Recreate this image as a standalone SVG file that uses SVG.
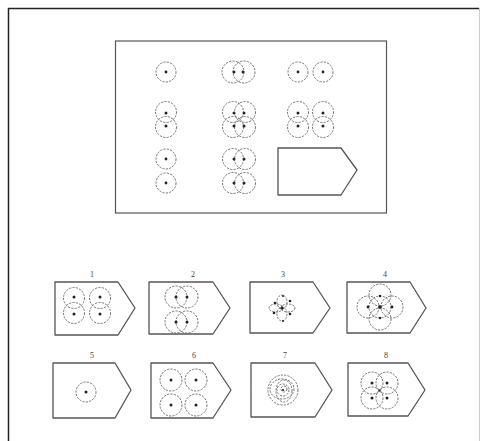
<svg xmlns="http://www.w3.org/2000/svg" width="481" height="441" viewBox="0 0 481 441">
<style>
.frame{fill:none;stroke:#222;stroke-width:1.5}
.box{fill:none;stroke:#555;stroke-width:1.2}
.pent{fill:none;stroke:#555;stroke-width:1.3;stroke-linejoin:round}
.c{fill:none;stroke:#666;stroke-width:0.9;stroke-dasharray:2.2 1.2}
.d{fill:#222}
.lbl{font-family:"Liberation Serif",serif;font-size:8px;fill:#444;text-anchor:middle}
</style>
<rect width="481" height="441" fill="#fff"/>
<path class="frame" d="M8.5,441 V8.5 H479"/>
<line x1="479.5" y1="8" x2="479.5" y2="441" stroke="#ccc" stroke-width="1"/>
<g id="matrix">
<rect class="box" x="115.5" y="41" width="271" height="172"/>
<g id="r1c1"><circle class="c" cx="166" cy="72" r="10"/><circle class="d" cx="166" cy="72" r="1.4"/></g>
<g id="r1c2"><circle class="c" cx="233" cy="72" r="11"/><circle class="c" cx="244" cy="72" r="11"/><circle class="d" cx="234" cy="72" r="1.5"/><circle class="d" cx="243" cy="72" r="1.5"/></g>
<g id="r1c3"><circle class="c" cx="298" cy="72" r="10"/><circle class="c" cx="323" cy="72" r="10"/><circle class="d" cx="298" cy="72" r="1.4"/><circle class="d" cx="323" cy="72" r="1.4"/></g>
<g id="r2c1"><circle class="c" cx="166" cy="112" r="10.5"/><circle class="c" cx="166" cy="127" r="10.5"/><circle class="d" cx="166" cy="113" r="1.5"/><circle class="d" cx="166" cy="126" r="1.5"/></g>
<g id="r2c2"><circle class="c" cx="233" cy="112" r="10.5"/><circle class="c" cx="245" cy="112" r="10.5"/><circle class="c" cx="233" cy="127" r="10.5"/><circle class="c" cx="245" cy="127" r="10.5"/><circle class="d" cx="234" cy="113" r="1.5"/><circle class="d" cx="244" cy="113" r="1.5"/><circle class="d" cx="234" cy="126" r="1.5"/><circle class="d" cx="244" cy="126" r="1.5"/></g>
<g id="r2c3"><circle class="c" cx="298" cy="112" r="10.5"/><circle class="c" cx="298" cy="127" r="10.5"/><circle class="c" cx="323" cy="112" r="10.5"/><circle class="c" cx="323" cy="127" r="10.5"/><circle class="d" cx="298" cy="113" r="1.5"/><circle class="d" cx="298" cy="126" r="1.5"/><circle class="d" cx="323" cy="113" r="1.5"/><circle class="d" cx="323" cy="126" r="1.5"/></g>
<g id="r3c1"><circle class="c" cx="166" cy="159" r="10"/><circle class="c" cx="166" cy="183" r="10"/><circle class="d" cx="166" cy="159" r="1.4"/><circle class="d" cx="166" cy="183" r="1.4"/></g>
<g id="r3c2"><circle class="c" cx="233" cy="159" r="10.5"/><circle class="c" cx="245" cy="159" r="10.5"/><circle class="c" cx="233" cy="183" r="10.5"/><circle class="c" cx="245" cy="183" r="10.5"/><circle class="d" cx="234" cy="159" r="1.5"/><circle class="d" cx="244" cy="159" r="1.5"/><circle class="d" cx="234" cy="183" r="1.5"/><circle class="d" cx="244" cy="183" r="1.5"/></g>
<g id="r3c3"><path class="pent" d="M278,148 H341 L357,170 L341,195 H278 Z"/></g>
</g>
<g id="opt1">
<text class="lbl" x="92" y="277">1</text>
<path class="pent" d="M55,282 H118 L135,308 L118,335 H55 Z"/>
<circle class="c" cx="74" cy="298" r="10.5"/><circle class="c" cx="74" cy="313" r="10.5"/><circle class="c" cx="100" cy="298" r="10.5"/><circle class="c" cx="100" cy="313" r="10.5"/>
<circle class="d" cx="74" cy="297" r="1.5"/><circle class="d" cx="74" cy="314" r="1.5"/><circle class="d" cx="100" cy="297" r="1.5"/><circle class="d" cx="100" cy="314" r="1.5"/>
</g>
<g id="opt2">
<text class="lbl" x="193" y="277">2</text>
<path class="pent" d="M149,282 H213 L230,308 L213,334 H149 Z"/>
<circle class="c" cx="176" cy="297" r="11"/><circle class="c" cx="187" cy="297" r="11"/><circle class="c" cx="176" cy="322" r="11"/><circle class="c" cx="187" cy="322" r="11"/>
<circle class="d" cx="176" cy="297" r="1.5"/><circle class="d" cx="187" cy="297" r="1.5"/><circle class="d" cx="176" cy="322" r="1.5"/><circle class="d" cx="187" cy="322" r="1.5"/>
</g>
<g id="opt3">
<text class="lbl" x="283" y="277">3</text>
<path class="pent" d="M250,282 H313 L330,308 L313,333 H250 Z"/>
<ellipse class="c" cx="282" cy="302" rx="5" ry="7"/><ellipse class="c" cx="282" cy="314" rx="5" ry="7"/><ellipse class="c" cx="276" cy="308" rx="7" ry="4"/><ellipse class="c" cx="288" cy="308" rx="7" ry="4"/>
<circle class="d" cx="282" cy="308" r="1.5"/><circle class="d" cx="275" cy="303" r="1.3"/><circle class="d" cx="290" cy="301" r="1.3"/><circle class="d" cx="274" cy="313" r="1.3"/><circle class="d" cx="290" cy="314" r="1.3"/><circle class="d" cx="283" cy="296" r="1"/><circle class="d" cx="283" cy="321" r="1"/>
</g>
<g id="opt4">
<text class="lbl" x="385" y="277">4</text>
<path class="pent" d="M347,282 H410 L426,308 L410,333 H347 Z"/>
<circle class="c" cx="380" cy="295" r="11"/><circle class="c" cx="380" cy="319" r="11"/><circle class="c" cx="368" cy="307" r="11"/><circle class="c" cx="392" cy="307" r="11"/><circle class="c" cx="380" cy="307" r="11"/>
<circle class="d" cx="380" cy="307" r="1.8"/><circle class="d" cx="368" cy="307" r="1.4"/><circle class="d" cx="392" cy="307" r="1.4"/><circle class="d" cx="380" cy="296" r="1.2"/><circle class="d" cx="380" cy="318" r="1.2"/>
</g>
<g id="opt5">
<text class="lbl" x="92" y="358">5</text>
<path class="pent" d="M53,363 H115 L131,390 L115,418 H53 Z"/>
<circle class="c" cx="86" cy="392" r="10"/><circle class="d" cx="86" cy="392" r="1.5"/>
</g>
<g id="opt6">
<text class="lbl" x="194" y="358">6</text>
<path class="pent" d="M151,363 H213 L231,390 L213,418 H151 Z"/>
<circle class="c" cx="171" cy="380" r="11"/><circle class="c" cx="196" cy="380" r="11"/><circle class="c" cx="171" cy="405" r="11"/><circle class="c" cx="196" cy="405" r="11"/>
<circle class="d" cx="171" cy="380" r="1.5"/><circle class="d" cx="196" cy="380" r="1.5"/><circle class="d" cx="171" cy="405" r="1.5"/><circle class="d" cx="196" cy="405" r="1.5"/>
</g>
<g id="opt7">
<text class="lbl" x="285" y="358">7</text>
<path class="pent" d="M251,363 H315 L332,390 L315,417 H251 Z"/>
<circle class="c" cx="283" cy="390" r="15"/><ellipse class="c" cx="282" cy="389" rx="12" ry="10"/><ellipse class="c" cx="284" cy="391" rx="8" ry="11"/><circle class="c" cx="283" cy="390" r="6"/><circle class="c" cx="284" cy="389" r="3"/>
<circle class="d" cx="283" cy="390" r="1.1"/>
</g>
<g id="opt8">
<text class="lbl" x="386" y="358">8</text>
<path class="pent" d="M348,363 H408 L425,390 L408,416 H348 Z"/>
<circle class="c" cx="372" cy="383" r="11"/><circle class="c" cx="387" cy="383" r="11"/><circle class="c" cx="372" cy="398" r="11"/><circle class="c" cx="387" cy="398" r="11"/>
<circle class="d" cx="372" cy="383" r="1.5"/><circle class="d" cx="387" cy="383" r="1.5"/><circle class="d" cx="372" cy="398" r="1.5"/><circle class="d" cx="387" cy="398" r="1.5"/><circle class="d" cx="379.5" cy="390.5" r="1.1"/>
</g>
</svg>
